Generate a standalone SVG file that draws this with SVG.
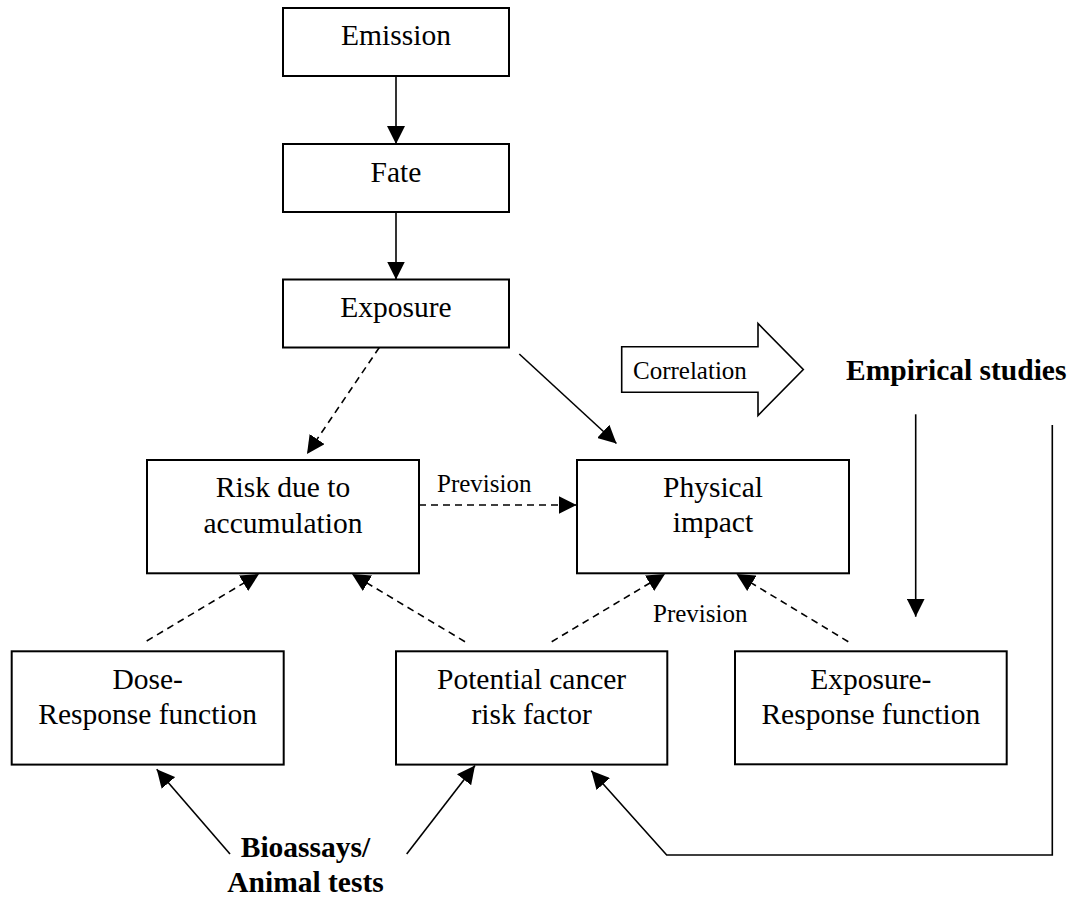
<svg xmlns="http://www.w3.org/2000/svg" width="1074" height="897" viewBox="0 0 1074 897">
  <style>
    .box { fill: #fff; stroke: #000; stroke-width: 2; }
    .t { font-family: "Liberation Serif", "Times New Roman", serif; font-size: 29.5px; fill: #000; text-anchor: middle; }
    .b { font-weight: bold; }
    .s { font-family: "Liberation Serif", "Times New Roman", serif; font-size: 25px; fill: #000; }
    .ln { fill: none; stroke: #000; stroke-width: 1.6; marker-end: url(#head); }
    .dash { stroke-dasharray: 7 5; }
    .big { fill: #fff; stroke: #000; stroke-width: 1.6; stroke-linejoin: miter; }
  </style>
  <defs>
    <marker id="head" viewBox="0 0 18 18" refX="18" refY="9" markerWidth="18" markerHeight="18" markerUnits="userSpaceOnUse" orient="auto">
      <path d="M0,0 L18,9 L0,18 z" fill="#000"/>
    </marker>
  </defs>

  <!-- nodes -->
  <g id="emission">
    <rect class="box" x="283" y="8" width="226" height="68"/>
    <text class="t" x="396" y="45">Emission</text>
  </g>
  <g id="fate">
    <rect class="box" x="283" y="144" width="226" height="68"/>
    <text class="t" x="396" y="182">Fate</text>
  </g>
  <g id="exposure">
    <rect class="box" x="283" y="279.5" width="226" height="68"/>
    <text class="t" x="396" y="316.7">Exposure</text>
  </g>
  <g id="risk">
    <rect class="box" x="147" y="460" width="272" height="113.3"/>
    <text class="t" x="283" y="496.7">Risk due to</text>
    <text class="t" x="283" y="532.7">accumulation</text>
  </g>
  <g id="physical">
    <rect class="box" x="577" y="460" width="272" height="113.3"/>
    <text class="t" x="713" y="496.7">Physical</text>
    <text class="t" x="713" y="531.7">impact</text>
  </g>
  <g id="dose-response">
    <rect class="box" x="11.7" y="651.3" width="272" height="113.3"/>
    <text class="t" x="147.7" y="689">Dose-</text>
    <text class="t" x="147.7" y="724">Response function</text>
  </g>
  <g id="cancer-risk">
    <rect class="box" x="396" y="651.3" width="271.3" height="113.3"/>
    <text class="t" x="531.6" y="688.5">Potential cancer</text>
    <text class="t" x="531.6" y="724">risk factor</text>
  </g>
  <g id="exposure-response">
    <rect class="box" x="735" y="651.3" width="271.7" height="113"/>
    <text class="t" x="870.8" y="688.5">Exposure-</text>
    <text class="t" x="870.8" y="723.5">Response function</text>
  </g>
  <g id="empirical">
    <text class="t b" x="846" y="380" style="text-anchor:start">Empirical studies</text>
  </g>
  <g id="bioassays">
    <text class="t b" x="305.5" y="856.7">Bioassays/</text>
    <text class="t b" x="305.5" y="891.5">Animal tests</text>
  </g>
  <g id="correlation">
    <polygon class="big" points="621.7,346.7 758,346.7 758,323.5 803.3,369.5 758,415.5 758,392.3 621.7,392.3"/>
    <text class="s" x="633" y="379">Correlation</text>
  </g>

  <!-- connectors -->
  <g id="connectors">
    <path class="ln" d="M396,76 L396,144"/>
    <path class="ln" d="M396,212 L396,279.5"/>
    <path class="ln dash" d="M379.3,347.5 L307,454"/>
    <path class="ln" d="M519.3,354 L616.5,443.5"/>
    <path class="ln dash" d="M419,505 L576.5,505"/>
    <path class="ln dash" d="M146.7,641 L259,574"/>
    <path class="ln dash" d="M465,641.7 L352,574"/>
    <path class="ln dash" d="M551.7,641.7 L665,574"/>
    <path class="ln dash" d="M848.3,641.7 L736.5,574"/>
    <path class="ln" d="M915.7,414.3 L915.7,616.7"/>
    <path class="ln" d="M1052.3,425 L1052.3,855 L666.7,855 L591.3,770.7"/>
    <path class="ln" d="M230,854 L156.7,769.3"/>
    <path class="ln" d="M406.7,854 L475,765.5"/>
    <text class="s" x="437" y="491.7">Prevision</text>
    <text class="s" x="653" y="621.7">Prevision</text>
  </g>
</svg>
